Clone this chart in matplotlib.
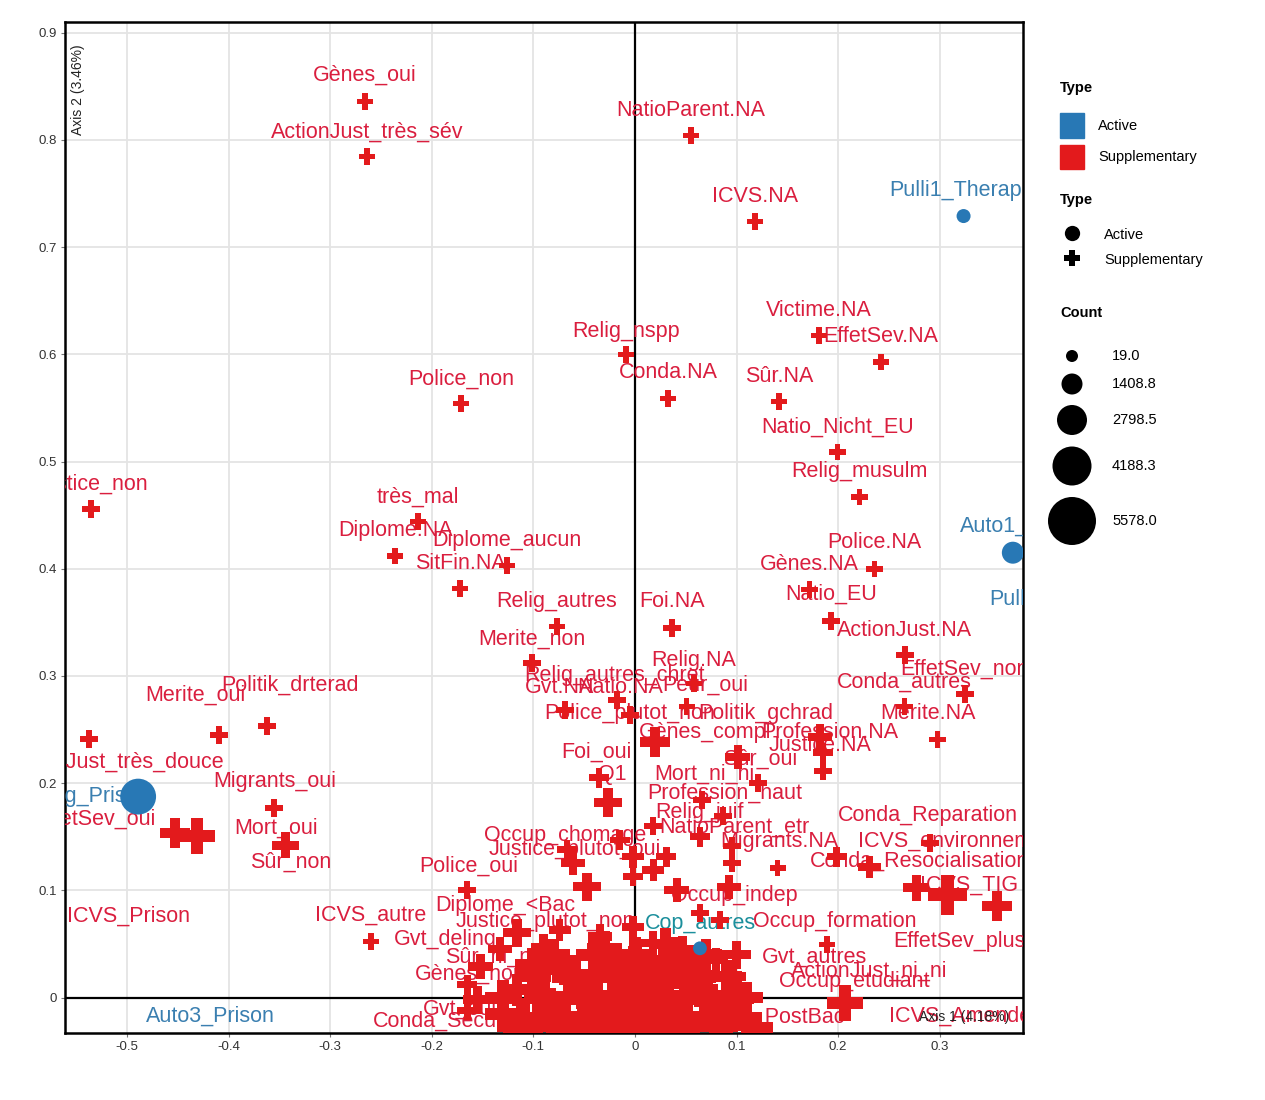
import numpy as np
import matplotlib
matplotlib.use("Agg")
import matplotlib.pyplot as plt
from matplotlib.patches import Rectangle

plt.rcParams['font.family'] = ['Liberation Sans', 'DejaVu Sans']
plt.rcParams['axes.unicode_minus'] = False

# supplementary categories (coordinates on axis 1 / axis 2, count)
sup_x = [-0.2655, -0.2635, 0.055, 0.118, -0.009, 0.0325, 0.181, 0.242, 0.1416, -0.171,
         0.1996, 0.221, -0.535, -0.2134, -0.236, -0.126, -0.172, 0.236, 0.172, 0.1927,
         0.0364, -0.0767, 0.2655, -0.1013, 0.058, 0.3245, 0.2655, 0.298, -0.409, -0.362,
         -0.537, -0.355, -0.4523, -0.4307, -0.344, -0.2596, -0.165, -0.0354, -0.0265, 0.051,
         -0.018, -0.005, -0.069, 0.0197, 0.101, 0.121, 0.066, 0.0865, 0.182, 0.185,
         0.185, 0.29, 0.1986, 0.231, 0.277, 0.3078, 0.356, 0.189, 0.2065, 0.1406,
         -0.067, -0.015, -0.002, 0.031, 0.096, 0.064, 0.018,
         -0.061, -0.047, -0.002, 0.018, 0.041, 0.093, 0.096, 0.064, 0.0836,
         -0.116, -0.133, -0.152, -0.09, -0.074, -0.034, -0.002, 0.018, 0.047, 0.08, 0.096,
         -0.155, -0.116, -0.0836, -0.051, -0.018, 0.005, -0.018, 0.031, 0.064, 0.09, 0.106,
         -0.051, -0.1, -0.165, -0.165, -0.03, 0.03, -0.07, 0.06,
         -0.08, -0.04, 0.0, 0.04, 0.08, -0.06, 0.0, 0.05, -0.1, -0.03,
         0.03, 0.11, -0.13, 0.1, -0.11, 0.12,
         -0.11, -0.07, -0.03, 0.01, 0.05, 0.09,
         -0.13, -0.09, -0.05, -0.01, 0.03, 0.07, 0.1,
         -0.1, -0.06, -0.02, 0.02, 0.06, 0.09,
         -0.08, -0.04, 0.0, 0.04, 0.07]
sup_y = [0.836, 0.7845, 0.804, 0.724, 0.600, 0.559, 0.6175, 0.593, 0.556, 0.554,
         0.509, 0.467, 0.456, 0.444, 0.412, 0.403, 0.3815, 0.400, 0.3806, 0.3517,
         0.345, 0.346, 0.320, 0.3125, 0.293, 0.2836, 0.2715, 0.2407, 0.2453, 0.2537,
         0.2416, 0.177, 0.154, 0.151, 0.142, 0.0522, 0.1007, 0.2052, 0.182, 0.2715,
         0.278, 0.264, 0.2687, 0.2388, 0.2248, 0.2006, 0.1847, 0.169, 0.2435, 0.2285,
         0.211, 0.1446, 0.1315, 0.122, 0.1026, 0.096, 0.085, 0.0494, -0.0047, 0.121,
         0.138, 0.147, 0.1315, 0.1315, 0.141, 0.150, 0.16,
         0.126, 0.1035, 0.113, 0.119, 0.1, 0.1035, 0.126, 0.079, 0.0728,
         0.0606, 0.045, 0.029, 0.0476, 0.063, 0.057, 0.066, 0.051, 0.045, 0.035, 0.0196,
         -0.002, 0.0075, -0.008, 0.0075, -0.002, 0.014, -0.0205, -0.011, 0.0075, -0.008, -0.018,
         -0.023, -0.027, 0.012, -0.012, 0.03, 0.025, 0.025, 0.035,
         -0.025, -0.028, -0.028, -0.026, -0.025, 0.02, 0.03, 0.015, 0.03, 0.045,
         0.05, 0.0, -0.015, 0.04, -0.03, -0.028,
         -0.02, -0.02, -0.02, -0.02, -0.02, -0.02,
         0.0, 0.0, 0.0, 0.0, 0.0, 0.0, 0.0,
         0.02, 0.02, 0.02, 0.02, 0.02, 0.02,
         0.04, 0.04, 0.04, 0.04, 0.04]
sup_n = [700, 700, 700, 700, 700, 700, 700, 700, 700, 700,
         700, 700, 950, 700, 700, 700, 700, 700, 700, 950,
         950, 700, 950, 950, 700, 950, 700, 700, 950, 950,
         950, 950, 2800, 3700, 2200, 700, 950, 1250, 2500, 700,
         950, 950, 950, 2800, 1900, 950, 950, 950, 1900, 1250,
         950, 950, 1250, 1600, 2200, 4300, 2800, 700, 3700, 700,
         1250, 1250, 1600, 1250, 950, 1250, 950,
         1900, 2500, 1250, 1600, 1900, 1900, 950, 950, 950,
         2500, 1900, 1900, 1900, 1600, 1900, 1600, 1900, 2200, 1900, 2200,
         2500, 3100, 3700, 4300, 5578, 4800, 4300, 4800, 3700, 3100, 2500,
         3700, 2800, 1250, 1250, 3100, 3100, 2500, 2200,
         5000, 5578, 5578, 5578, 4800, 4800, 4300, 4800, 3700, 3700,
         3100, 3100, 3700, 2500, 4300, 3100,
         4800, 5200, 5578, 5578, 5200, 4300,
         3700, 4300, 4800, 5578, 5200, 4800, 3700,
         3700, 4300, 4800, 4800, 4300, 3100,
         3100, 3700, 3700, 3700, 3100]

# active categories
act_x = [0.3235, 0.372, 0.422, -0.489, -0.418, 0.064]
act_y = [0.729, 0.415, 0.347, 0.1875, -0.041, 0.046]
act_n = [330, 1560, 800, 3700, 500, 300]

# labels (text, position on the map)
sup_labels = ["Gènes_oui", "ActionJust_très_sév", "NatioParent.NA", "ICVS.NA", "Relig_nspp",
              "Conda.NA", "Victime.NA", "EffetSev.NA", "Sûr.NA", "Police_non",
              "Natio_Nicht_EU", "Relig_musulm", "Justice_non", "très_mal", "Diplome.NA",
              "Diplome_aucun", "SitFin.NA", "Police.NA", "Gènes.NA", "Natio_EU",
              "Foi.NA", "Relig_autres", "ActionJust.NA", "Merite_non", "Relig.NA",
              "EffetSev_non", "Conda_autres", "Merite.NA", "Politik_gchrad", "Police_plutot_non",
              "Relig_autres_chret", "Gvt.NA", "Natio.NA", "Peur_oui", "Gènes_compl",
              "Profession.NA", "Justice.NA", "Sûr_oui", "Mort_ni_ni", "Profession_haut",
              "Relig_juif", "NatioParent_etr", "Migrants.NA", "Conda_Reparation", "ICVS_environnement",
              "Occup_chomage", "Conda_Resocialisation", "ICVS_TIG", "Police_oui", "Diplome_<Bac",
              "ICVS_autre", "Justice_plutot_non", "Gvt_delinq", "Occup_indep", "Occup_formation",
              "EffetSev_plus", "Gvt_autres", "ActionJust_ni_ni", "Occup_etudiant", "Gènes_non",
              "Sûr_ni_ni", "Gvt_oui", "Conda_Sécurité", "Diplome_PostBac", "ICVS_Amende",
              "ICVS_Prison", "ActionJust_très_douce", "Migrants_oui", "Mort_oui", "Sûr_non",
              "EffetSev_oui", "Merite_oui", "Politik_drterad", "Foi_oui", "Q1",
              "Justice_plutot_oui"]
sup_lab_x = [-0.2655, -0.2635, 0.055, 0.118, -0.009,
             0.0325, 0.181, 0.242, 0.1416, -0.171,
             0.1996, 0.221, -0.535, -0.2134, -0.236,
             -0.126, -0.172, 0.236, 0.172, 0.1927,
             0.0364, -0.0767, 0.2655, -0.1013, 0.058,
             0.3245, 0.2655, 0.288, 0.1288, -0.005,
             -0.0197, -0.0737, -0.0147, 0.0688, 0.0688,
             0.1917, 0.182, 0.123, 0.0688, 0.0885,
             0.064, 0.098, 0.1426, 0.288, 0.3196,
             -0.0688, 0.280, 0.329, -0.164, -0.128,
             -0.2606, -0.0885, -0.187, 0.098, 0.1967,
             0.3196, 0.177, 0.231, 0.2163, -0.1622,
             -0.1426, -0.172, -0.182, 0.123, 0.3196,
             -0.4985, -0.511, -0.355, -0.353, -0.339,
             -0.532, -0.4326, -0.340, -0.0383, -0.0226,
             -0.059]
sup_lab_y = [0.860, 0.807, 0.827, 0.747, 0.621,
             0.583, 0.641, 0.617, 0.579, 0.5765,
             0.532, 0.491, 0.4785, 0.4664, 0.4356,
             0.4263, 0.405, 0.4244, 0.404, 0.376,
             0.3694, 0.3694, 0.3424, 0.334, 0.3144,
             0.306, 0.2938, 0.265, 0.265, 0.265,
             0.3004, 0.289, 0.289, 0.291, 0.2472,
             0.2472, 0.235, 0.222, 0.208, 0.191,
             0.1726, 0.1586, 0.1455, 0.170, 0.1455,
             0.151, 0.127, 0.1045, 0.123, 0.0858,
             0.0765, 0.0709, 0.054, 0.095, 0.0709,
             0.0522, 0.0373, 0.0243, 0.015, 0.0215,
             0.0373, -0.0112, -0.0224, -0.0187, -0.0177,
             0.0756, 0.220, 0.2015, 0.1576, 0.126,
             0.166, 0.2817, 0.291, 0.2285, 0.208,
             0.138]

act_labels = ["Pulli1_Therapie", "Auto1_Therapie", "Pulli2_Therapie", "Auto2_Prog_Prison",
              "Auto3_Prison", "Cop_autres"]
act_lab_x = [0.3235, 0.395, 0.422, -0.569, -0.418, 0.064]
act_lab_y = [0.753, 0.4394, 0.371, 0.1875, -0.0177, 0.069]

count_breaks = [19.0, 1408.8, 2798.5, 4188.3, 5578.0]

RED = '#E31A1C'
RED_TXT = '#DA1E3E'
BLUE = '#2878B5'
BLUE_TXT = '#3A7FB0'
TEAL_TXT = '#1B8F9C'


def marker_pt(n):
    # radius in pixels grows linearly with count, 6px at 19 to 24px at 5578
    r = 6 + 18 * (np.asarray(n, dtype=float) - 19) / (5578 - 19)
    return 2 * r * 0.72


fig = plt.figure(figsize=(12.65, 11), dpi=100)
ax = fig.add_axes([65 / 1265, 67 / 1100, 958 / 1265, 1011 / 1100])

xt = [-0.5, -0.4, -0.3, -0.2, -0.1, 0, 0.1, 0.2, 0.3]
yt = [0, 0.1, 0.2, 0.3, 0.4, 0.5, 0.6, 0.7, 0.8, 0.9]
ax.set_xlim(-0.561, 0.382)
ax.set_ylim(-0.033, 0.910)
ax.set_xticks(xt)
ax.set_yticks(yt)
ax.set_xticklabels([f"{v:g}" for v in xt])
ax.set_yticklabels([f"{v:g}" for v in yt])
ax.tick_params(labelsize=9.5, labelcolor='#333333', color='#777777', length=3, width=0.8, pad=3)
ax.grid(True, color='#E4E4E4', lw=1.3, zorder=0)
ax.set_axisbelow(True)
for sp in ax.spines.values():
    sp.set_linewidth(1.8)
    sp.set_color('black')

ax.axhline(0, color='black', lw=1.6, zorder=1)
ax.axvline(0, color='black', lw=1.6, zorder=1)

# labels first, the points are drawn over them
for t, lx, ly in zip(sup_labels, sup_lab_x, sup_lab_y):
    ax.text(lx, ly, t, color=RED_TXT, fontsize=15.5, ha='center', va='center',
            clip_on=True, zorder=3)
for t, lx, ly in zip(act_labels, act_lab_x, act_lab_y):
    c = TEAL_TXT if t == "Cop_autres" else BLUE_TXT
    ax.text(lx, ly, t, color=c, fontsize=15.5, ha='center', va='center',
            clip_on=True, zorder=3)

ax.scatter(sup_x, sup_y, s=marker_pt(sup_n) ** 2, marker='P', color=RED,
           linewidths=0, zorder=4)
ax.scatter(act_x, act_y, s=marker_pt(act_n) ** 2, marker='o', color=BLUE,
           linewidths=0, zorder=5)

ax.text(0.0136, 0.933, "Axis 2 (3.46%)", transform=ax.transAxes, rotation=90,
        ha='center', va='center', fontsize=10, color='#222222', zorder=6)
ax.text(0.939, 0.0158, "Axis 1 (4.18%)", transform=ax.transAxes,
        ha='center', va='center', fontsize=10, color='#222222', zorder=6)

# legend panel, drawn in pixel coordinates of the figure
lg = fig.add_axes([0, 0, 1, 1], zorder=10)
lg.set_xlim(0, 1265)
lg.set_ylim(1100, 0)
lg.axis('off')
lg.patch.set_alpha(0)

lg.text(1060, 88, "Type", fontsize=10.5, fontweight='bold', va='center')
lg.add_patch(Rectangle((1060, 113), 24, 25, color=BLUE))
lg.add_patch(Rectangle((1060, 145), 24, 24, color=RED))
lg.text(1098, 126, "Active", fontsize=10.5, va='center')
lg.text(1098, 157, "Supplementary", fontsize=10.5, va='center')

lg.text(1060, 200, "Type", fontsize=10.5, fontweight='bold', va='center')
lg.scatter([1072], [233], s=11 ** 2, marker='o', color='black', linewidths=0)
lg.scatter([1072], [258], s=12 ** 2, marker='P', color='black', linewidths=0)
lg.text(1104, 235, "Active", fontsize=10.5, va='center')
lg.text(1104, 260, "Supplementary", fontsize=10.5, va='center')

lg.text(1060, 313, "Count", fontsize=10.5, fontweight='bold', va='center')
key_y = [356, 384, 420, 466, 521]
lg.scatter([1072] * len(count_breaks), key_y, s=marker_pt(count_breaks) ** 2,
           marker='o', color='black', linewidths=0)
for v, yy in zip(count_breaks, key_y):
    lg.text(1112, yy, f"{v:.1f}", fontsize=10.5, va='center')

plt.savefig("out.png", dpi=100)
